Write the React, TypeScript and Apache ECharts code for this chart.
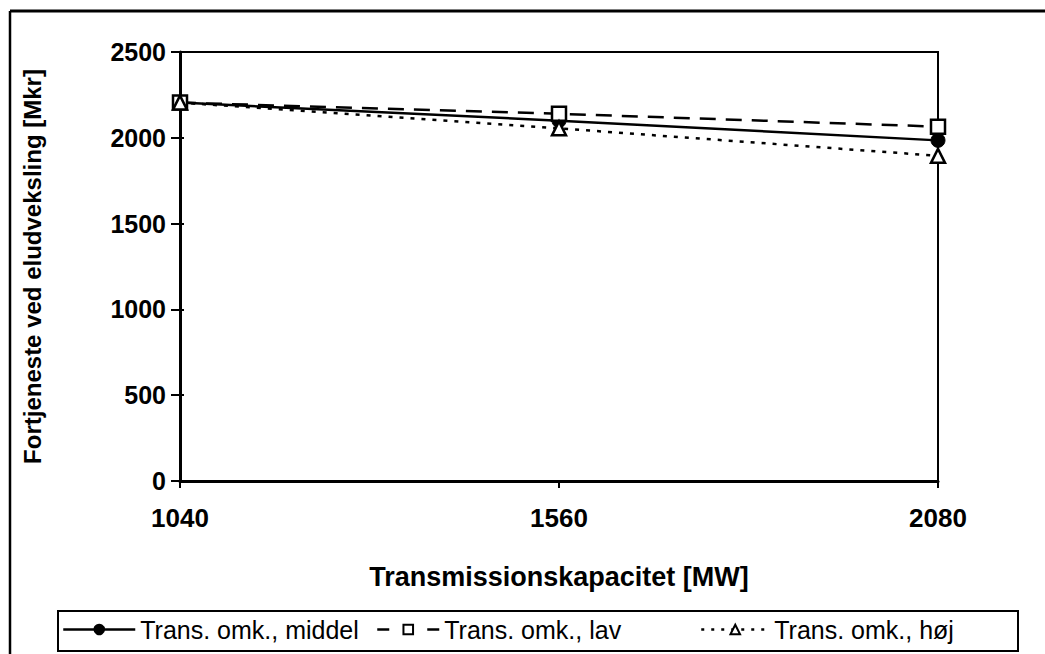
import React, { useEffect, useRef } from "react";
import * as echarts from "echarts";

const capacities = [1040, 1560, 2080];
const middel = [2205, 2100, 1985];
const lav = [2205, 2140, 2065];
const hoj = [2205, 2055, 1895];
const seriesNames = ["Trans. omk., middel", "Trans. omk., lav", "Trans. omk., høj"];
const yMin = 0;
const yMax = 2500;
const yStep = 500;
const xTitle = "Transmissionskapacitet [MW]";
const yTitle = "Fortjeneste ved eludveksling [Mkr]";

const FONT = "Liberation Sans, Arial, Helvetica, sans-serif";

export default function App() {
  const ref = useRef<HTMLDivElement>(null);
  useEffect(() => {
    if (!ref.current) return;
    const chart = echarts.init(ref.current, null, { renderer: "svg" });
    const pairs = (vals: number[]) => capacities.map((c, i) => [c, vals[i]]);
    const legendText = { fontFamily: FONT, fontSize: 25, color: "#000" };
    chart.setOption({
      animation: false,
      backgroundColor: "#ffffff",
      textStyle: { fontFamily: FONT, color: "#000" },
      grid: {
        left: 180,
        right: 107,
        top: 52,
        bottom: 173,
        show: true,
        borderColor: "#000",
        borderWidth: 2,
        backgroundColor: "transparent",
      },
      xAxis: {
        type: "value",
        min: capacities[0],
        max: capacities[capacities.length - 1],
        interval: capacities[1] - capacities[0],
        name: xTitle,
        nameLocation: "middle",
        nameGap: 82,
        nameTextStyle: { fontFamily: FONT, fontWeight: "bold", fontSize: 27, color: "#000" },
        axisLine: { show: true, lineStyle: { color: "#000", width: 3 } },
        axisTick: { show: true, length: 7, lineStyle: { color: "#000", width: 2 } },
        splitLine: { show: false },
        axisLabel: {
          fontFamily: FONT,
          fontWeight: "bold",
          fontSize: 26,
          color: "#000",
          margin: 24,
          formatter: (v: number) => String(v),
        },
      },
      yAxis: [
        {
          type: "value",
          min: yMin,
          max: yMax,
          interval: yStep,
          name: yTitle,
          nameLocation: "middle",
          nameGap: 136,
          nameRotate: 90,
          nameTextStyle: { fontFamily: FONT, fontWeight: "bold", fontSize: 24, color: "#000" },
          axisLine: { show: true, lineStyle: { color: "#000", width: 3 } },
          axisTick: { show: true, length: 9, lineStyle: { color: "#000", width: 2 } },
          splitLine: { show: false },
          axisLabel: {
            fontFamily: FONT,
            fontWeight: "bold",
            fontSize: 25,
            color: "#000",
            margin: 14,
            formatter: (v: number) => String(v),
          },
        },
        {
          type: "value",
          min: yMin,
          max: yMax,
          interval: yStep,
          position: "left",
          axisLine: { show: false },
          axisTick: { show: true, inside: true, length: 4, lineStyle: { color: "#000", width: 2 } },
          axisLabel: { show: false },
          splitLine: { show: false },
        },
      ],
      legend: [
        {
          left: 62,
          top: 617,
          padding: 0,
          itemWidth: 72,
          itemHeight: 12,
          textStyle: legendText,
          data: [seriesNames[0]],
          lineStyle: { type: "solid", width: 2.5 },
        },
        {
          left: 376,
          top: 617,
          padding: 0,
          itemWidth: 62,
          itemHeight: 12,
          textStyle: legendText,
          data: [seriesNames[1]],
          lineStyle: { type: [12, 38], width: 2.5 },
        },
        {
          left: 700,
          top: 617,
          padding: 0,
          itemWidth: 68,
          itemHeight: 12,
          textStyle: legendText,
          data: [seriesNames[2]],
          lineStyle: { type: [3, 7], width: 2.5 },
        },
      ],
      series: [
        {
          name: seriesNames[0],
          type: "line",
          data: pairs(middel),
          symbol: "circle",
          symbolSize: 14,
          lineStyle: { color: "#000", width: 2.5, type: "solid" },
          itemStyle: { color: "#000", borderColor: "#000", borderWidth: 1 },
          z: 3,
        },
        {
          name: seriesNames[1],
          type: "line",
          data: pairs(lav),
          symbol: "rect",
          symbolSize: 14,
          lineStyle: { color: "#000", width: 2.5, type: [16, 10] },
          itemStyle: { color: "#fff", borderColor: "#000", borderWidth: 2.5 },
          z: 4,
        },
        {
          name: seriesNames[2],
          type: "line",
          data: pairs(hoj),
          symbol: "triangle",
          symbolSize: 14,
          lineStyle: { color: "#000", width: 2.5, type: [4, 7] },
          itemStyle: { color: "#fff", borderColor: "#000", borderWidth: 2.5 },
          z: 5,
        },
      ],
      graphic: [
        { type: "line", shape: { x1: 10, y1: 11, x2: 1045, y2: 11 }, style: { stroke: "#000", lineWidth: 3 } },
        { type: "line", shape: { x1: 10, y1: 11, x2: 10, y2: 654 }, style: { stroke: "#000", lineWidth: 2.5 } },
        {
          type: "rect",
          shape: { x: 58, y: 611, width: 960, height: 40 },
          style: { fill: "none", stroke: "#000", lineWidth: 2 },
          z: -1,
        },
      ],
    });
    return () => chart.dispose();
  }, []);
  return (
    <div
      ref={ref}
      style={{ position: "fixed", left: 0, top: 0, width: 1045, height: 654, background: "#fff" }}
    />
  );
}
